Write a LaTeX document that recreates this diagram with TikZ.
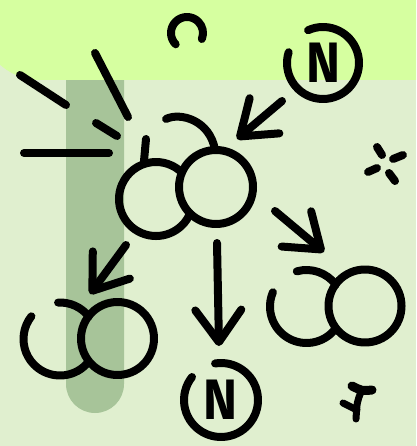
\documentclass[tikz,border=0pt]{standalone}
\usepackage{fontspec}
\newfontfamily\glyphfont{Fira Sans}
\usetikzlibrary{arrows.meta}
\definecolor{bgpale}{HTML}{E0EFCF}
\definecolor{bandlime}{HTML}{D6FFA0}
\definecolor{barsage}{HTML}{A7C499}
\begin{document}
\begin{tikzpicture}[x=1pt,y=-1pt,
  ink/.style={line width=8pt, line cap=round, line join=round, draw=black},
  flow/.style={ink, -{Straight Barb[length=32pt,width=46pt,round]}},
  letter/.style={font=\glyphfont\bfseries\fontsize{57}{57}\selectfont, inner sep=0pt, text=black, xscale=0.9}]
\useasboundingbox (0,0) rectangle (416,446);
% backdrop, sage column and lime header band
\fill[bgpale] (0,0) rectangle (416,446);
\fill[barsage] (66,40) -- (66,384) arc[start angle=180,end angle=0,radius=29] -- (124,40) -- cycle;
\begin{scope}
  \clip (0,0) rectangle (416,446);
  \fill[bandlime] (-20,-20) -- (436,-20) -- (436,80) -- (40,80)
    arc[start angle=90,end angle=180,radius=60] -- cycle;
\end{scope}

% centres of the round marks
\coordinate (hook) at (187,33);
\coordinate (ringTop) at (323,63);
\coordinate (ringBot) at (221,400);
\coordinate (pairAL) at (156,199);
\coordinate (pairAR) at (216,187);
\coordinate (pairBL) at (60,339);
\coordinate (pairBR) at (117.5,338.5);
\coordinate (pairCL) at (306.5,306.5);
\coordinate (pairCR) at (365,306);

% small hook at the top
\draw[ink] ([shift={(135:16)}]hook) arc[start angle=135,end angle=382,radius=16];

% ringed letters
\node[letter] (nTop) at (ringTop) {N};
\node[letter] (nBot) at (ringBot) {N};
\draw[ink] ([shift={(245.6:36)}]ringTop) arc[start angle=245.6,end angle=557.4,radius=36];
\draw[ink] ([shift={(260.8:37)}]ringBot) arc[start angle=260.8,end angle=578.4,radius=37];

% burst strokes
\draw[ink] (20,75) -- (66,105);
\draw[ink] (95,53) -- (128,117);
\draw[ink] (96,123) -- (117,136);
\draw[ink] (24,153) -- (109,153);

% upper pair with stems
\draw[ink] ([shift={(22.9:37)}]pairAL) arc[start angle=22.9,end angle=314.5,radius=37];
\draw[ink] (pairAR) circle[radius=37];
\draw[ink] (146,139) -- (144,161);
\draw[ink] (166,119) .. controls (180,112) and (210,120) .. (215,150);

% lower left pair
\draw[ink] (pairBR) circle[radius=36.5];
\draw[ink] ([shift={(38:36.5)}]pairBL) arc[start angle=38,end angle=218.4,radius=36.5];
\draw[ink] ([shift={(267:36.5)}]pairBL) arc[start angle=267,end angle=322,radius=36.5];

% lower right pair
\draw[ink] (pairCR) circle[radius=36.5];
\draw[ink] ([shift={(36.7:36.5)}]pairCL) arc[start angle=36.7,end angle=203,radius=36.5];
\draw[ink] ([shift={(254.6:36.5)}]pairCL) arc[start angle=254.6,end angle=323.3,radius=36.5];

% arrows
\coordinate (a1s) at (282,101); \coordinate (a1e) at (237,139);
\coordinate (a2s) at (126,245); \coordinate (a2e) at (90,294);
\coordinate (a3s) at (217,243); \coordinate (a3e) at (219,346);
\coordinate (a4s) at (275,211); \coordinate (a4e) at (324,252);
\draw[flow] (a1s) -- (a1e);
\draw[flow] (a2s) -- (a2e);
\draw[flow] (a3s) -- (a3e);
\draw[flow] (a4s) -- (a4e);

% sparkle
\draw[ink] (377,147) -- (382,155);
\draw[ink] (393,159) -- (403,155);
\draw[ink] (368,172) -- (377,168);
\draw[ink] (389,173) -- (395,181);

% little squiggle: thick cap bar, leaning stem and a short left arm
\draw[ink, line width=9pt] (352,386) .. controls (362,391) .. (372,390);
\draw[ink, line width=7pt] (361,392) .. controls (357,402) .. (356,419);
\draw[ink, line width=7pt] (343,403) .. controls (350,406) .. (357,410);
\end{tikzpicture}
\end{document}
